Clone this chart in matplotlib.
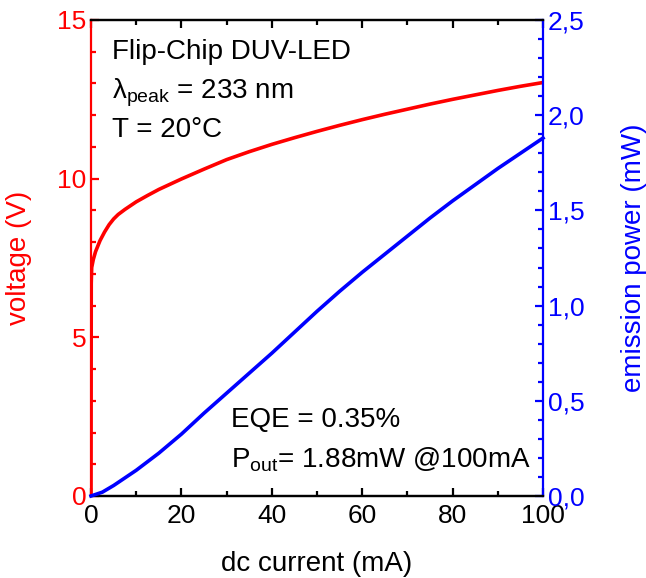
import numpy as np
import matplotlib
matplotlib.use("Agg")
import matplotlib.pyplot as plt
from matplotlib.ticker import MultipleLocator, FuncFormatter

plt.rcParams['font.family'] = ['Liberation Sans', 'DejaVu Sans']
plt.rcParams['mathtext.fontset'] = 'custom'
plt.rcParams['mathtext.rm'] = 'Liberation Sans'

# voltage curve (V) vs dc current (mA)
current_v = [0, 0.05, 0.15, 0.5, 1, 2, 3, 4, 5, 6, 7.5, 10, 12.5, 15, 20, 25, 30, 35, 40, 45,
             50, 55, 60, 65, 70, 75, 80, 85, 90, 95, 100]
voltage = [0, 6.7, 7.2, 7.45, 7.7, 8.05, 8.32, 8.55, 8.73, 8.87, 9.03, 9.27, 9.47, 9.66, 9.99,
           10.3, 10.6, 10.85, 11.08, 11.29, 11.49, 11.68, 11.86, 12.03, 12.19, 12.35, 12.5,
           12.64, 12.78, 12.91, 13.03]

# emission power (mW) vs dc current (mA)
current_p = [0, 2.5, 5, 7.5, 10, 12.5, 15, 20, 25, 30, 35, 40, 45, 50, 55, 60, 65, 70, 75,
             80, 85, 90, 95, 100]
power = [0, 0.02, 0.055, 0.095, 0.135, 0.18, 0.225, 0.325, 0.435, 0.54, 0.645, 0.75, 0.86,
         0.97, 1.075, 1.175, 1.27, 1.365, 1.46, 1.55, 1.635, 1.72, 1.80, 1.88]

fig = plt.figure(figsize=(6.46, 5.78), dpi=100)
ax = fig.add_axes([0.1409, 0.1419, 0.6997, 0.8235])
ax2 = ax.twinx()

ax.plot(current_v, voltage, color='#ff0000', lw=2.6, zorder=3)
ax2.plot(current_p, power, color='#0000ff', lw=2.6, zorder=3, clip_on=False)

ax.set_xlim(0, 100)
ax.set_ylim(0, 15)
ax2.set_ylim(0, 2.5)

ax.xaxis.set_major_locator(MultipleLocator(20))
ax.xaxis.set_minor_locator(MultipleLocator(10))
ax.yaxis.set_major_locator(MultipleLocator(5))
ax.yaxis.set_minor_locator(MultipleLocator(1))
ax2.yaxis.set_major_locator(MultipleLocator(0.5))
ax2.yaxis.set_minor_locator(MultipleLocator(0.1))
ax2.yaxis.set_major_formatter(FuncFormatter(lambda v, p: f"{v:.1f}".replace('.', ',')))

for a in (ax, ax2):
    for s in a.spines.values():
        s.set_linewidth(1.6)
ax.spines['left'].set_color('#ff0000')
ax2.spines['left'].set_visible(False)
ax2.spines['right'].set_color('#0000ff')
ax.spines['right'].set_visible(False)

ax.tick_params(axis='x', which='both', direction='in', top=True, labelsize=19, width=1.6, pad=6)
ax.tick_params(axis='x', which='major', length=6)
ax.tick_params(axis='x', which='minor', length=3.5)
ax.tick_params(axis='y', which='both', direction='in', colors='#ff0000', labelsize=19, width=1.6)
ax.tick_params(axis='y', which='major', length=6)
ax.tick_params(axis='y', which='minor', length=3.5)
ax2.tick_params(axis='y', which='both', direction='in', colors='#0000ff', labelsize=19, width=1.6)
ax2.tick_params(axis='y', which='major', length=6)
ax2.tick_params(axis='y', which='minor', length=3.5)

ax.set_xlabel('dc current (mA)', fontsize=20, labelpad=16)
ax.set_ylabel('voltage (V)', fontsize=20, color='#ff0000', labelpad=18)
ax2.set_ylabel('emission power (mW)', fontsize=20, color='#0000ff', labelpad=26)

ax.text(0.046, 0.933, 'Flip-Chip DUV-LED', transform=ax.transAxes, fontsize=20, va='center')
ax.text(0.046, 0.847, r'λ$_\mathregular{peak}$ = 233 nm', transform=ax.transAxes, fontsize=20, va='center')
ax.text(0.046, 0.769, 'T = 20°C', transform=ax.transAxes, fontsize=20, va='center')
ax.text(0.31, 0.16, 'EQE = 0.35%', transform=ax.transAxes, fontsize=20, va='center')
ax.text(0.31, 0.076, r'P$_\mathregular{out}$= 1.88mW @100mA', transform=ax.transAxes, fontsize=20, va='center')

fig.savefig('out.png', dpi=100)
